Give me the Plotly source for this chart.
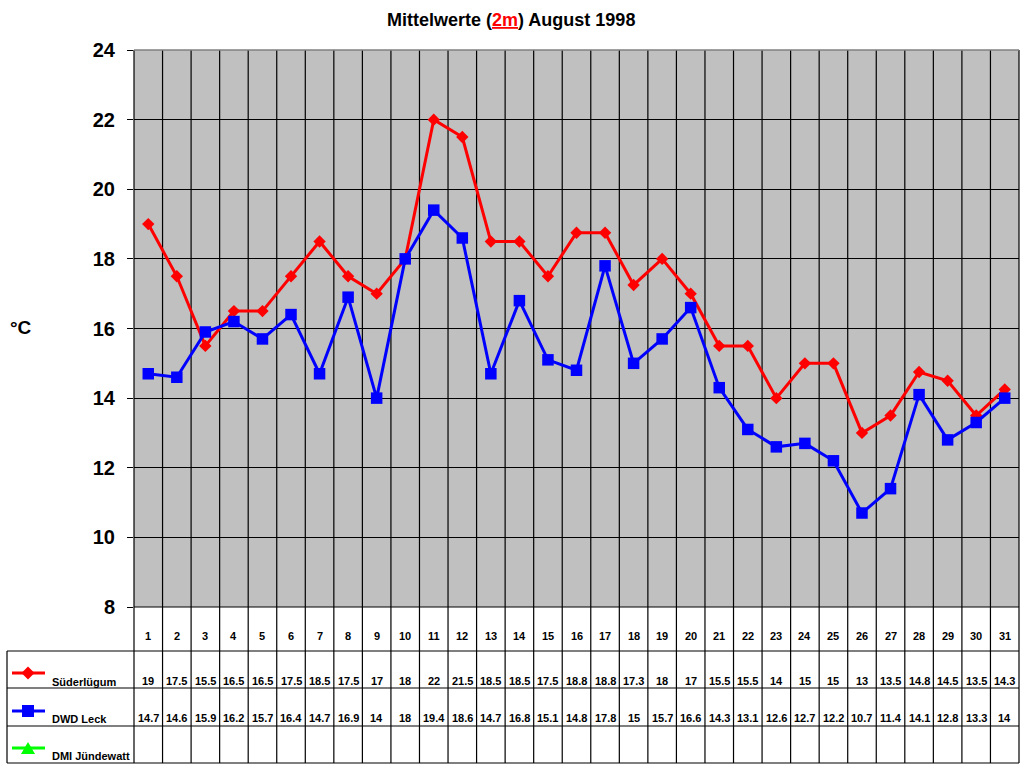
from decimal import Decimal, ROUND_HALF_UP

import plotly.graph_objects as go

# Daily mean temperatures (2 m), August 1998
days = list(range(1, 32))
suederluegum = [19, 17.5, 15.5, 16.5, 16.5, 17.5, 18.5, 17.5, 17, 18,
                22, 21.5, 18.5, 18.5, 17.5, 18.75, 18.75, 17.25, 18, 17,
                15.5, 15.5, 14, 15, 15, 13, 13.5, 14.75, 14.5, 13.5, 14.25]
dwd_leck = [14.7, 14.6, 15.9, 16.2, 15.7, 16.4, 14.7, 16.9, 14, 18,
            19.4, 18.6, 14.7, 16.8, 15.1, 14.8, 17.8, 15, 15.7, 16.6,
            14.3, 13.1, 12.6, 12.7, 12.2, 10.7, 11.4, 14.1, 12.8, 13.3, 14]
dmi_juendewatt = []  # no data this month

series_names = ['Süderlügum', 'DWD Leck', 'DMI Jündewatt']
series_colors = ['#FF0000', '#0000FF', '#00FF00']

FONT = 'Arial, Liberation Sans, sans-serif'
W, H = 1024, 768
# plot area and data table rows in pixels
PL, PR, PT, PB = 134, 1019, 50, 607
ROWS = [607, 651, 688, 726, 763]
TL = 7


def px(x):
    return x / W


def py(y):
    return 1 - y / H


def fmt(v):
    d = Decimal(str(v)).quantize(Decimal('0.1'), rounding=ROUND_HALF_UP)
    s = str(d)
    return s[:-2] if s.endswith('.0') else s


fig = go.Figure()
fig.add_trace(go.Scatter(x=days, y=suederluegum, mode='lines+markers',
                         name=series_names[0],
                         line=dict(color=series_colors[0], width=3),
                         marker=dict(symbol='diamond', size=9.5, color=series_colors[0])))
fig.add_trace(go.Scatter(x=days, y=dwd_leck, mode='lines+markers',
                         name=series_names[1],
                         line=dict(color=series_colors[1], width=3),
                         marker=dict(symbol='square', size=11.5, color=series_colors[1])))

shapes = []
# vertical category lines through plot and table
n = len(days)
for i in range(n + 1):
    xp = px(PL + (PR - PL) * i / n)
    shapes.append(dict(type='line', xref='paper', yref='paper', x0=xp, x1=xp,
                       y0=py(PT), y1=py(ROWS[-1]), layer='below',
                       line=dict(color='black', width=1.2)))
# table horizontal lines
shapes.append(dict(type='line', xref='paper', yref='paper', x0=px(PL), x1=px(PR),
                   y0=py(PB), y1=py(PB), line=dict(color='black', width=1.2)))
for r in ROWS[1:]:
    shapes.append(dict(type='line', xref='paper', yref='paper', x0=px(TL), x1=px(PR),
                       y0=py(r), y1=py(r), line=dict(color='black', width=1.2)))
shapes.append(dict(type='line', xref='paper', yref='paper', x0=px(TL), x1=px(TL),
                   y0=py(ROWS[1]), y1=py(ROWS[-1]), line=dict(color='black', width=1.2)))
# top border of plot area
shapes.append(dict(type='line', xref='paper', yref='paper', x0=px(PL), x1=px(PR),
                   y0=py(PT), y1=py(PT), line=dict(color='#808080', width=1.5)))

# legend keys in the table
key_y = [673, 711, 748]
for k, (c, ky) in enumerate(zip(series_colors, key_y)):
    shapes.append(dict(type='line', xref='paper', yref='paper', x0=px(12), x1=px(45),
                       y0=py(ky), y1=py(ky), line=dict(color=c, width=3)))
    cx = 28
    if k == 0:
        pts = [(cx, ky - 6.5), (cx + 6.5, ky), (cx, ky + 6.5), (cx - 6.5, ky)]
    elif k == 1:
        pts = [(cx - 6, ky - 6), (cx + 6, ky - 6), (cx + 6, ky + 6), (cx - 6, ky + 6)]
    else:
        pts = [(cx, ky - 6), (cx + 7, ky + 6), (cx - 7, ky + 6)]
    path = 'M ' + ' L '.join(f'{px(a):.5f},{py(b):.5f}' for a, b in pts) + ' Z'
    shapes.append(dict(type='path', xref='paper', yref='paper', path=path,
                       fillcolor=c, line=dict(color=c, width=0)))

ann = []
tfont = dict(family=FONT, size=11, color='black', weight='bold')
for d in days:
    ann.append(dict(x=d, xref='x', y=py(636), yref='paper', text=str(d),
                    showarrow=False, font=tfont, xanchor='center', yanchor='middle'))
for vals, yy in [(suederluegum, 681), (dwd_leck, 718), (dmi_juendewatt, 755)]:
    for d, v in zip(days, vals):
        ann.append(dict(x=d, xref='x', y=py(yy), yref='paper', text=fmt(v),
                        showarrow=False, font=tfont, xanchor='center', yanchor='middle'))
for name, yy in zip(series_names, [682, 719, 756]):
    ann.append(dict(x=px(50), xref='paper', y=py(yy), yref='paper', text=name,
                    showarrow=False, font=tfont, xanchor='left', yanchor='middle'))

ann.append(dict(x=px(511), xref='paper', y=py(20), yref='paper', showarrow=False,
                text="<b>Mittelwerte (<span style='color:#FF0000'><u>2m</u></span>) August 1998</b>",
                font=dict(family=FONT, size=18, color='black'), yanchor='middle'))
ann.append(dict(x=px(8), xref='paper', y=py(328), yref='paper', showarrow=False,
                text='<b>°C</b>', font=dict(family=FONT, size=19, color='black'),
                xanchor='left', yanchor='middle'))

fig.update_layout(
    width=W, height=H,
    margin=dict(l=0, r=0, t=0, b=0, autoexpand=False),
    paper_bgcolor='white', plot_bgcolor='#C0C0C0',
    showlegend=False,
    shapes=shapes, annotations=ann,
    xaxis=dict(domain=[px(PL), px(PR)], range=[0.5, n + 0.5], automargin=False,
               showticklabels=False, showgrid=False, zeroline=False, ticks=''),
    yaxis=dict(domain=[py(PB), py(PT)], range=[8, 24], dtick=2, automargin=False,
               showgrid=True, gridcolor='black', gridwidth=1.2, zeroline=False,
               ticks='outside', ticklen=6, tickcolor='black', tickwidth=1.2,
               ticklabelstandoff=8,
               tickfont=dict(family=FONT, size=20, color='black', weight='bold')),
)

# page body has a default margin; drop it so the figure sits at 0,0
fig.write_html("out.html", config={'displayModeBar': False},
               post_script="document.body.style.margin='0';")
